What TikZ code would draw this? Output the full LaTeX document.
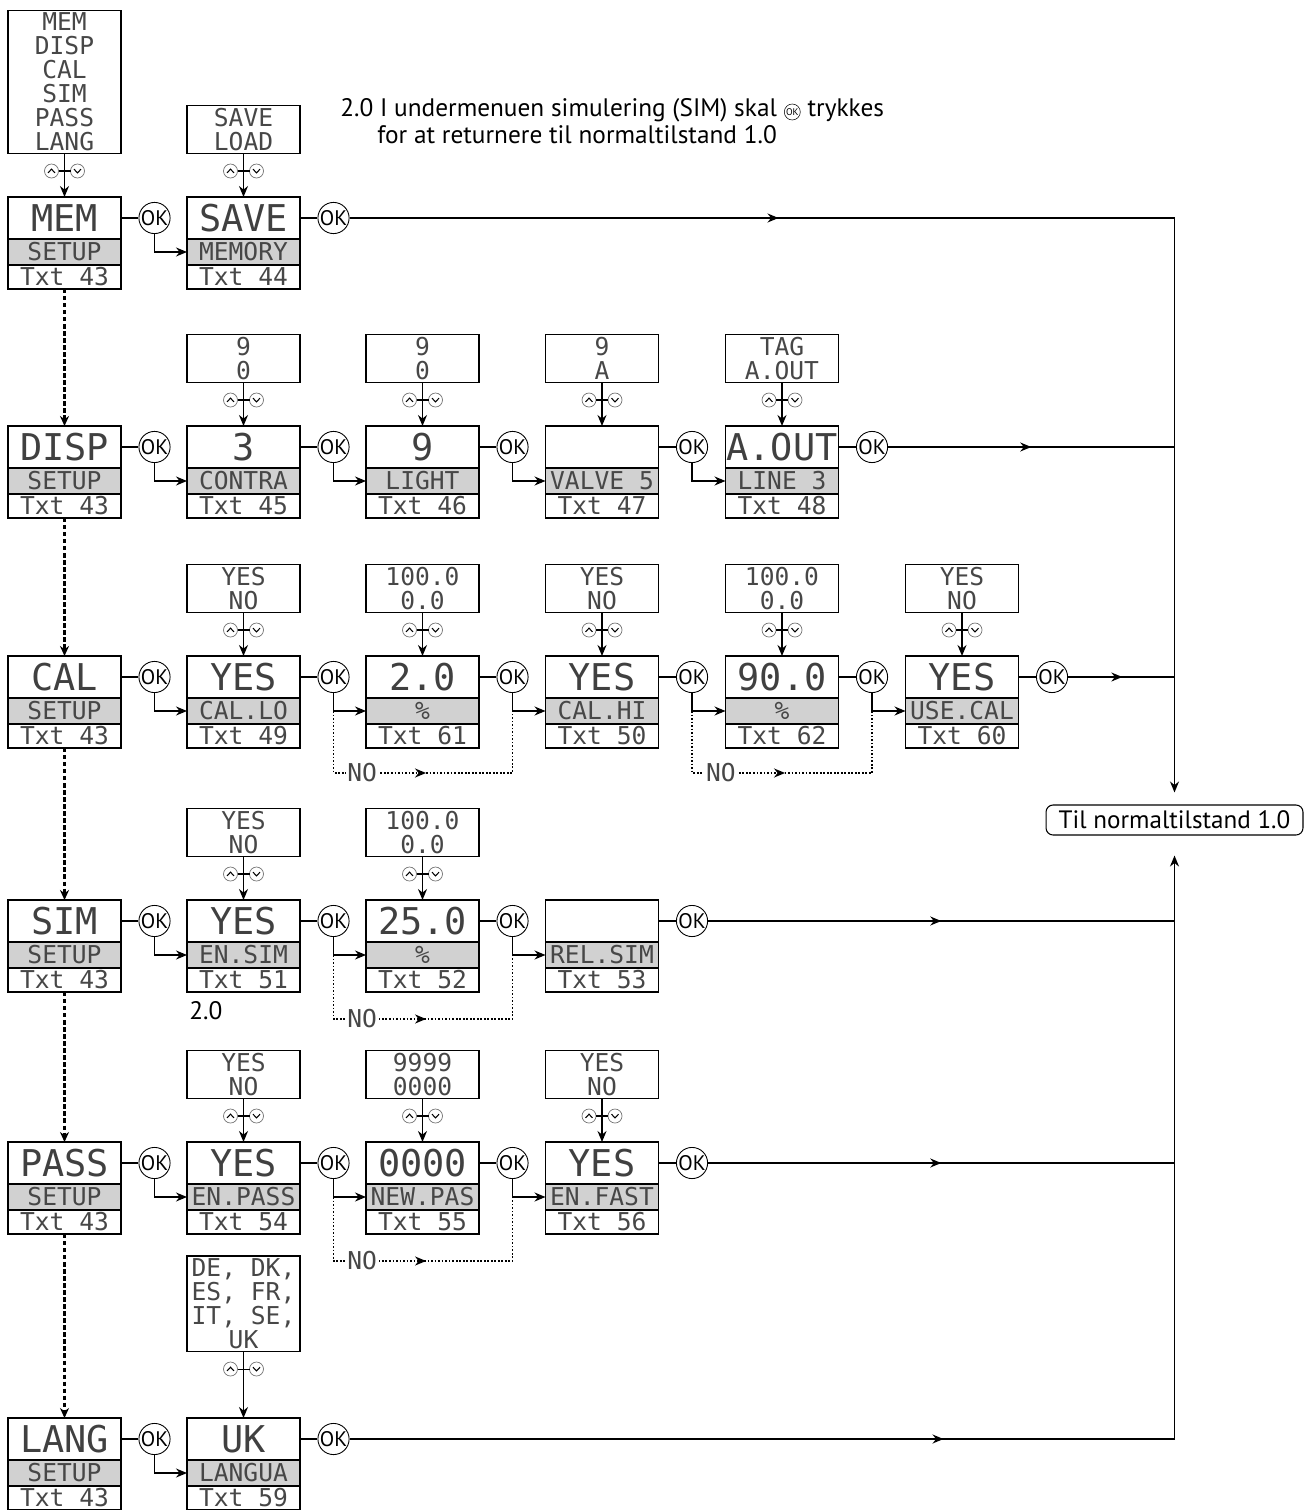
\documentclass[tikz,border=0pt]{standalone}
\usepackage{fontspec}
\newfontfamily\lcdfont{DejaVu Sans Mono}
\newfontfamily\notefont{PT Sans}
\usetikzlibrary{positioning,arrows.meta,calc,decorations.markings}
\definecolor{lcdgray}{gray}{0.82}

% one display: value, gray line, text number
\newcommand{\lcd}[5]{%
  \node[lcdbig] (#1) at (#2) {#3};
  \node[lcdmid,below=0pt of #1] (#1m) {#4};
  \node[lcdtxt,below=0pt of #1m] (#1t) {#5};}
% choice list above a display
\newcommand{\opts}[4][0.86cm]{%
  \node[optbox,above=#1 of #2] (#3) {#4};
  \draw[arr] (#3) -- (#2);
  \pic at ($(#3.south)+(0,17)$) {arrowkeys};}
% OK button right of a display
\newcommand{\okafter}[2]{%
  \node[okbtn,right=0.35cm of #1] (#2) {OK};
  \draw[conn] (#1) -- (#2);}

\tikzset{arrowkeys/.pic={
  \draw[line width=0.4pt,black!55] (-13,0) circle[radius=0.14cm] (13,0) circle[radius=0.14cm];
  \draw[line width=0.6pt] (-6,0) -- (6,0);
  \draw[line width=0.6pt] (-16.5,1.8) -- (-13,-1.8) -- (-9.5,1.8);
  \draw[line width=0.6pt] (9.5,-1.8) -- (13,1.8) -- (16.5,-1.8);
}}

\begin{document}
\begin{tikzpicture}[x=0.02cm,y=-0.02cm,
  lcdbig/.style={draw,line width=0.9pt,outer sep=0pt,inner sep=0pt,minimum width=2.26cm,
                 minimum height=0.84cm,font=\lcdfont\fontsize{21}{21}\selectfont,text=black!75},
  lcdmid/.style={draw,line width=0.9pt,outer sep=0pt,inner sep=0pt,minimum width=2.26cm,
                 minimum height=0.52cm,fill=lcdgray,font=\lcdfont\fontsize{14}{14}\selectfont,text=black!72},
  lcdtxt/.style={lcdmid,fill=white,minimum height=0.48cm},
  optbox/.style={draw,line width=0.8pt,inner sep=1.5pt,minimum width=2.26cm,minimum height=0.96cm,
                 align=center,font=\lcdfont\fontsize{14}{13.6}\selectfont,text=black!72},
  okbtn/.style={draw,circle,line width=0.5pt,inner sep=0pt,minimum size=0.6cm,
                font=\notefont\fontsize{12}{12}\selectfont},
  okmini/.style={draw,circle,line width=0.3pt,inner sep=0pt,minimum size=0.32cm,
                 font=\notefont\fontsize{5.5}{5.5}\selectfont},
  conn/.style={line width=0.8pt},
  arr/.style={conn,-{Stealth[length=2.2mm,width=1.8mm]}},
  noline/.style={line width=1pt,densely dotted},
  setupdash/.style={line width=1.3pt,dash pattern=on 2.5pt off 1.5pt,-{Stealth[length=2mm,width=1.8mm]}},
  midarrow/.style={postaction={decorate},decoration={markings,
                   mark=at position #1 with {\arrow{Stealth[length=2.2mm,width=1.8mm]}}}},
  nolbl/.style={fill=white,inner sep=1pt,font=\lcdfont\fontsize{14}{14}\selectfont,text=black!72},
  notetext/.style={inner sep=0pt,font=\notefont\fontsize{14.4}{17}\selectfont},
  tilbox/.style={draw,line width=0.6pt,rounded corners=4pt,minimum width=5.14cm,minimum height=0.6cm,
                 inner sep=0pt,font=\notefont\fontsize{14.3}{17}\selectfont},
]
\useasboundingbox (0,0) rectangle (1308,1510);

% Note
\node[notetext,anchor=base west] (note1) at (340,117) {2.0 I undermenuen simulering (SIM) skal};
\node[notetext,anchor=base west] (note2) at ($(note1.base east)+(30,0)$) {trykkes};
\node[okmini] (okNote) at ($(note1.base east)!0.5!(note2.base west)+(0,-5)$) {OK};
\node[notetext,anchor=base west] (note3) at (377,144) {for at returnere til normaltilstand 1.0};

% MEM
\lcd{memSetup}{64.5,218}{MEM}{SETUP}{Txt 43}
\lcd{memSave}{243.5,218}{SAVE}{MEMORY}{Txt 44}
\opts{memSetup}{memList}{MEM\\DISP\\CAL\\SIM\\PASS\\LANG}
\opts{memSave}{memOpt}{SAVE\\LOAD}
\okafter{memSetup}{okMem1}
\okafter{memSave}{okMem2}
\draw[arr] (okMem1) |- (memSavem);

% DISP
\lcd{dispSetup}{64.5,447}{DISP}{SETUP}{Txt 43}
\lcd{dispContra}{243.5,447}{3}{CONTRA}{Txt 45}
\lcd{dispLight}{422.5,447}{9}{LIGHT}{Txt 46}
\lcd{dispValve}{602,447}{}{VALVE 5}{Txt 47}
\lcd{dispAout}{782,447}{A.OUT}{LINE 3}{Txt 48}
\opts{dispContra}{dispContraOpt}{9\\0}
\opts{dispLight}{dispLightOpt}{9\\0}
\opts{dispValve}{dispValveOpt}{9\\A}
\opts{dispAout}{dispAoutOpt}{TAG\\A.OUT}
\okafter{dispSetup}{okDisp1}
\okafter{dispContra}{okDisp2}
\okafter{dispLight}{okDisp3}
\okafter{dispValve}{okDisp4}
\okafter{dispAout}{okDisp5}
\draw[arr] (okDisp1) |- (dispContram);
\draw[arr] (okDisp2) |- (dispLightm);
\draw[arr] (okDisp3) |- (dispValvem);
\draw[arr] (okDisp4) |- (dispAoutm);

% CAL
\lcd{calSetup}{64.5,677}{CAL}{SETUP}{Txt 43}
\lcd{calLo}{243.5,677}{YES}{CAL.LO}{Txt 49}
\lcd{calLoVal}{422.5,677}{2.0}{\%}{Txt 61}
\lcd{calHi}{602,677}{YES}{CAL.HI}{Txt 50}
\lcd{calHiVal}{782,677}{90.0}{\%}{Txt 62}
\lcd{calUse}{962,677}{YES}{USE.CAL}{Txt 60}
\opts{calLo}{calLoOpt}{YES\\NO}
\opts{calLoVal}{calLoValOpt}{100.0\\0.0}
\opts{calHi}{calHiOpt}{YES\\NO}
\opts{calHiVal}{calHiValOpt}{100.0\\0.0}
\opts{calUse}{calUseOpt}{YES\\NO}
\okafter{calSetup}{okCal1}
\okafter{calLo}{okCal2}
\okafter{calLoVal}{okCal3}
\okafter{calHi}{okCal4}
\okafter{calHiVal}{okCal5}
\okafter{calUse}{okCal6}
\draw[arr] (okCal1) |- (calLom);
\draw[arr] (okCal2) |- (calLoValm);
\draw[arr] (okCal3) |- (calHim);
\draw[arr] (okCal4) |- (calHiValm);
\draw[arr] (okCal5) |- (calUsem);
\draw[noline,midarrow=0.51] (okCal2 |- calLoValm) -- ++(0,62) -| node[nolbl,pos=0.08] {NO} (okCal3 |- calHim);
\draw[noline,midarrow=0.51] (okCal4 |- calHiValm) -- ++(0,62) -| node[nolbl,pos=0.08] {NO} (okCal5 |- calUsem);

% SIM
\lcd{simSetup}{64.5,921}{SIM}{SETUP}{Txt 43}
\lcd{simEn}{243.5,921}{YES}{EN.SIM}{Txt 51}
\lcd{simVal}{422.5,921}{25.0}{\%}{Txt 52}
\lcd{simRel}{602,921}{}{REL.SIM}{Txt 53}
\opts{simEn}{simEnOpt}{YES\\NO}
\opts{simVal}{simValOpt}{100.0\\0.0}
\okafter{simSetup}{okSim1}
\okafter{simEn}{okSim2}
\okafter{simVal}{okSim3}
\okafter{simRel}{okSim4}
\draw[arr] (okSim1) |- (simEnm);
\draw[arr] (okSim2) |- (simValm);
\draw[arr] (okSim3) |- (simRelm);
\draw[noline,midarrow=0.51] (okSim2 |- simValm) -- ++(0,64) -| node[nolbl,pos=0.08] {NO} (okSim3 |- simRelm);
\node[notetext,anchor=north west] (simNote) at ($(simEnt.south west)+(2,9)$) {2.0};

% PASS
\lcd{passSetup}{64.5,1163}{PASS}{SETUP}{Txt 43}
\lcd{passEn}{243.5,1163}{YES}{EN.PASS}{Txt 54}
\lcd{passNew}{422.5,1163}{0000}{NEW.PAS}{Txt 55}
\lcd{passFast}{602,1163}{YES}{EN.FAST}{Txt 56}
\opts{passEn}{passEnOpt}{YES\\NO}
\opts{passNew}{passNewOpt}{9999\\0000}
\opts{passFast}{passFastOpt}{YES\\NO}
\okafter{passSetup}{okPass1}
\okafter{passEn}{okPass2}
\okafter{passNew}{okPass3}
\okafter{passFast}{okPass4}
\draw[arr] (okPass1) |- (passEnm);
\draw[arr] (okPass2) |- (passNewm);
\draw[arr] (okPass3) |- (passFastm);
\draw[noline,midarrow=0.51] (okPass2 |- passNewm) -- ++(0,64) -| node[nolbl,pos=0.08] {NO} (okPass3 |- passFastm);

% LANG
\lcd{langSetup}{64.5,1439}{LANG}{SETUP}{Txt 43}
\lcd{langUk}{243.5,1439}{UK}{LANGUA}{Txt 59}
\opts[1.32cm]{langUk}{langUkOpt}{DE, DK,\\ES, FR,\\IT, SE,\\UK}
\okafter{langSetup}{okLang1}
\okafter{langUk}{okLang2}
\draw[arr] (okLang1) |- (langUkm);

% Setup menu chain
\draw[setupdash] (memSetupt) -- (dispSetup);
\draw[setupdash] (dispSetupt) -- (calSetup);
\draw[setupdash] (calSetupt) -- (simSetup);
\draw[setupdash] (simSetupt) -- (passSetup);
\draw[setupdash] (passSetupt) -- (langSetup);

% Back to normal state
\node[tilbox] (til) at (1174.5,820) {Til normaltilstand 1.0};
\draw[conn,midarrow=0.52] (okMem2) -- (okMem2 -| til);
\draw[conn,midarrow=0.5] (okDisp5) -- (okDisp5 -| til);
\draw[conn,midarrow=0.51] (okCal6) -- (okCal6 -| til);
\draw[conn,midarrow=0.5] (okSim4) -- (okSim4 -| til);
\draw[conn,midarrow=0.5] (okPass4) -- (okPass4 -| til);
\draw[conn,midarrow=0.72] (okLang2) -- (okLang2 -| til);
\draw[arr,shorten >=0.24cm] (okMem2 -| til) -- (til);
\draw[arr,shorten >=0.4cm] (okLang2 -| til) -- (til);

\end{tikzpicture}
\end{document}
